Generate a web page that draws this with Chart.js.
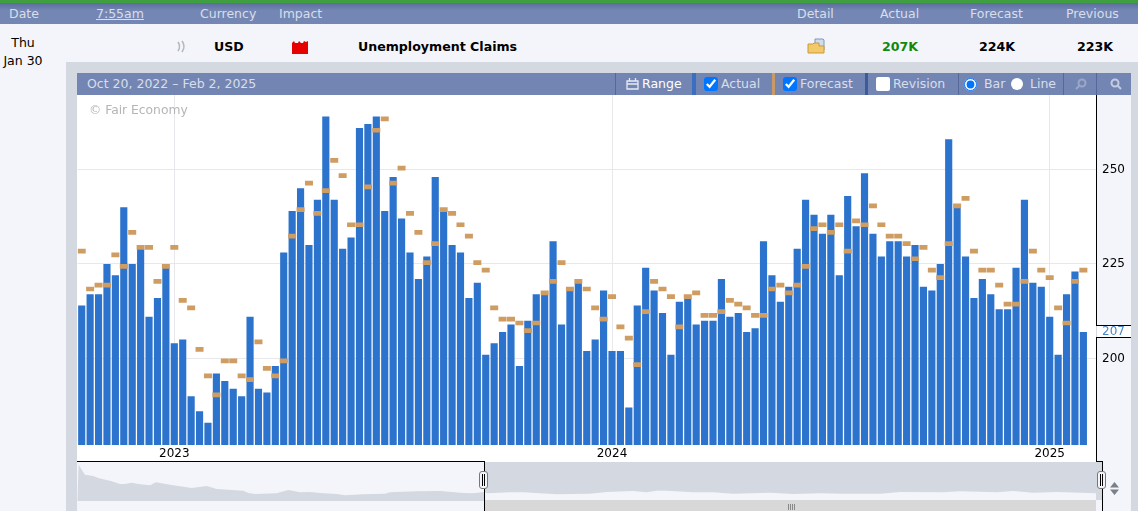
<!DOCTYPE html>
<html>
<head>
<meta charset="utf-8">
<title>Unemployment Claims</title>
<script src="https://cdn.jsdelivr.net/npm/chart.js@4"></script>
<style>
html, body { margin: 0; padding: 0; }
body { width: 1138px; height: 511px; overflow: hidden; position: relative; background: #d4d8e1; font-family: "DejaVu Sans", sans-serif; }
div, span, canvas, input, svg { position: absolute; }
.t { white-space: nowrap; line-height: 16px; }
.hd { color: #d8deeb; font-size: 12.5px; top: 6px; }
.b { color: #000; font-weight: bold; font-size: 12.6px; top: 39px; }
.tool { color: #d8deeb; font-size: 12.5px; top: 76px; }
.sep { top: 73px; height: 22px; }
input { margin: 0; width: 14px; height: 14px; top: 77px; accent-color: #0075ff; }
.plain { appearance: none; background: #fff; border-radius: 2px; }
.round { appearance: none; background: #fff; border-radius: 50%; }
.line { background: #000; }
.handle { width: 7px; height: 16px; background: #f4f5fa; border: 1px solid #777; border-radius: 3px; top: 471px; }
.handle i { position: absolute; left: 2px; top: 2px; width: 1px; height: 12px; background: #000; box-shadow: 2px 0 0 #000; }
</style>
</head>
<body>
<!-- page header -->
<div style="left:0;top:0;width:1138px;height:3px;background:#3f9e3f"></div>
<div style="left:0;top:3px;width:1138px;height:21px;background:linear-gradient(#5a6c9b,#7487b4 35%)"></div>
<span class="t hd" style="left:9px">Date</span>
<span class="t hd" style="left:96px;text-decoration:underline">7:55am</span>
<span class="t hd" style="left:200px">Currency</span>
<span class="t hd" style="left:279px">Impact</span>
<span class="t hd" style="left:797px">Detail</span>
<span class="t hd" style="left:880px">Actual</span>
<span class="t hd" style="left:970px">Forecast</span>
<span class="t hd" style="left:1066px">Previous</span>

<!-- calendar row -->
<div style="left:0;top:24px;width:66px;height:487px;background:#f4f5fa"></div>
<div style="left:66px;top:24px;width:1072px;height:38px;background:#f4f5fa"></div>
<span class="t" style="left:0;width:46px;text-align:center;top:35px;font-size:12.5px">Thu</span>
<span class="t" style="left:0;width:46px;text-align:center;top:53px;font-size:12.5px">Jan 30</span>
<svg style="left:176px;top:40px" width="11" height="13" viewBox="0 0 11 13" fill="none" stroke="#b4b8bf" stroke-width="1.6"><path d="M2 2q3 4.500 0 9M6 1q4 5.500 0 11"/></svg>
<span class="t b" style="left:214px">USD</span>
<svg style="left:292px;top:40px" width="16" height="14" viewBox="0 0 16 14"><path d="M0 14V3l2-2 1 2h3l1-2 2 2h2l1-2 2 1 2-1v13z" fill="#e60000"/></svg>
<span class="t b" style="left:358px">Unemployment Claims</span>
<svg style="left:807px;top:38px" width="18" height="16" viewBox="0 0 18 16"><path d="M8 1h8l1 1v10H8z" fill="#cfdcf0" stroke="#7c97bd"/><path d="M1 6h5l1-1h5v3h5v7H1z" fill="#f2c96b" stroke="#c99a3a"/></svg>
<span class="t b" style="left:882px;color:#0f8a0f">207K</span>
<span class="t b" style="left:979px">224K</span>
<span class="t b" style="left:1077px">223K</span>

<!-- chart toolbar -->
<div style="left:77px;top:73px;width:1054px;height:22px;background:#7386b3"></div>
<span class="t tool" style="left:87px">Oct 20, 2022 – Feb 2, 2025</span>
<div class="sep" style="left:615px;width:1px;background:#56689a"></div>
<svg style="left:626px;top:77px" width="13" height="13" viewBox="0 0 13 13" fill="none" stroke="#e6eaf2" stroke-width="1.3"><path d="M1 4h11v8H1zM1 7h11M3.500 1v3M9.500 1v3"/></svg>
<span class="t tool" style="left:642px;color:#fff">Range</span>
<div class="sep" style="left:692px;width:4px;background:#3c6ec0"></div>
<input type="checkbox" checked style="left:704px">
<span class="t tool" style="left:721px">Actual</span>
<div class="sep" style="left:772px;width:3px;background:#c79a66"></div>
<input type="checkbox" checked style="left:783px">
<span class="t tool" style="left:800px">Forecast</span>
<div class="sep" style="left:865px;width:3px;background:#3c5a9c"></div>
<input type="checkbox" class="plain" style="left:876px">
<span class="t tool" style="left:893px">Revision</span>
<div class="sep" style="left:958px;width:1px;background:#56689a"></div>
<input type="radio" checked style="left:964px;width:13px;height:13px;top:78px">
<span class="t tool" style="left:984px">Bar</span>
<input type="radio" class="round" style="left:1011px;width:12px;height:12px;top:78px">
<span class="t tool" style="left:1030px">Line</span>
<div class="sep" style="left:1063px;width:1px;background:#56689a"></div>
<svg style="left:1075px;top:78px" width="12" height="12" viewBox="0 0 12 12" fill="none" stroke="#9aa8c8" stroke-width="2"><circle cx="7" cy="5" r="3.500"/><path d="M4.500 7.500L1 11"/></svg>
<div class="sep" style="left:1096px;width:1px;background:#56689a"></div>
<svg style="left:1110px;top:78px" width="12" height="12" viewBox="0 0 12 12" fill="none" stroke="#c4cce0" stroke-width="2"><circle cx="5" cy="5" r="3.500"/><path d="M7.500 7.500L11 11"/></svg>

<!-- main plot background -->
<div style="left:77px;top:95px;width:1019px;height:367px;background:#fff"></div>
<div style="left:1097px;top:95px;width:34px;height:367px;background:#f4f5fa"></div>
<div style="left:1097px;top:326px;width:34px;height:11px;background:#fff"></div>
<div class="line" style="left:1096px;top:95px;width:1px;height:230px"></div>
<div class="line" style="left:1096px;top:325px;width:35px;height:1px"></div>
<div class="line" style="left:1096px;top:337px;width:35px;height:1px"></div>
<div class="line" style="left:1096px;top:337px;width:1px;height:125px"></div>

<!-- navigator background -->
<div style="left:77px;top:462px;width:407px;height:49px;background:#f4f5fa"></div>
<div style="left:484px;top:462px;width:618px;height:38px;background:#d4d8e1"></div>
<div style="left:1102px;top:462px;width:29px;height:49px;background:#f4f5fa"></div>
<div style="left:1096px;top:500px;width:6px;height:11px;background:#f4f5fa"></div>

<canvas id="mainChart" width="1054" height="367" style="left:77px;top:95px"></canvas>
<canvas id="navChart" width="1019" height="38" style="left:77px;top:463px"></canvas>

<span class="t" style="left:89px;top:102px;font-size:12.3px;color:#b5b5b5">© Fair Economy</span>

<!-- navigator frame and scrollbar -->
<div style="left:484px;top:500px;width:612px;height:11px;background:#d8d8d8"></div>
<div class="line" style="left:77px;top:461px;width:407px;height:1px"></div>
<div class="line" style="left:484px;top:461px;width:1px;height:50px"></div>
<div class="line" style="left:1096px;top:461px;width:6px;height:1px"></div>
<div class="line" style="left:1102px;top:461px;width:1px;height:50px"></div>
<div class="handle" style="left:479px"><i></i></div>
<div class="handle" style="left:1097px"><i></i></div>
<svg style="left:788px;top:504px" width="9" height="6" viewBox="0 0 9 6" stroke="#888"><path d="M.5 0v6M2.500 0v6M4.500 0v6M6.500 0v6"/></svg>
<svg style="left:1110px;top:482px" width="9" height="13" viewBox="0 0 9 13" fill="#7a7f88"><path d="M4.500 0L9 5.500H0zM0 7.500h9L4.500 13z"/></svg>

<script>
// weekly claims, thousands
const actual = [
    214, 217, 217, 225, 222, 240, 225, 229, 211, 216,
    224, 204, 205, 190, 186, 183, 196, 194, 192, 190,
    211, 192, 191, 198, 228, 239, 245, 230, 242, 264,
    242, 229, 232, 261, 262, 264, 239, 248, 237, 228,
    221, 227, 248, 239, 230, 228, 216, 220, 201, 204,
    207, 209, 198, 210, 217, 217, 231, 209, 218, 220,
    202, 205, 218, 202, 202, 187, 214, 224, 218, 212,
    201, 215, 216, 209, 210, 210, 221, 211, 212, 207,
    208, 231, 222, 215, 219, 229, 242, 238, 233, 238,
    222, 243, 235, 249, 233, 227, 231, 231, 227, 230,
    219, 218, 225, 258, 240, 227, 216, 221, 217, 213,
    213, 224, 242, 220, 219, 211, 201, 217, 223, 207
];

const forecast = [
    229, 219, 220, 220, 228, 225, 234, 230, 230, 221,
    225, 230, 216, 214, 203, 196, 191, 200, 200, 196,
    195, 205, 198, 196, 200, 233, 240, 247, 239, 245,
    253, 249, 236, 236, 246, 261, 264, 247, 251, 239,
    234, 226, 231, 240, 239, 236, 233, 226, 224, 214,
    211, 211, 210, 208, 210, 218, 221, 226, 219, 221,
    219, 214, 211, 217, 209, 206, 199, 213, 221, 219,
    217, 209, 217, 218, 212, 212, 213, 216, 215, 214,
    212, 212, 219, 220, 218, 220, 225, 235, 236, 234,
    236, 229, 237, 236, 241, 236, 233, 233, 231, 227,
    230, 224, 222, 231, 241, 243, 229, 224, 224, 220,
    215, 215, 221, 229, 224, 222, 214, 210, 221, 224
];

const yearLabels = ['2023', '2024', '2025'];
const yearWeeks = [11, 63, 115];
const valueTicks = [200, 225, 250];
const latestActual = 207;

// long history strip under the chart
const navX = [
    0.3, 1.7, 4.7, 8, 16.3, 21.3, 34.7, 43, 48, 54.7, 61.3, 73, 79, 93, 114.7, 129.7, 139.7, 166.3,
    171.3, 178, 199.7, 211.3, 223, 233, 246.3, 259.7, 268, 286.3, 308, 313, 339.7, 363, 386.3, 396.3, 407.3,
    409.7, 433, 446, 479.7, 513, 529.7, 556, 569.7, 579.7, 589.7, 616, 636, 656, 693, 716, 743, 766, 803,
    823, 866, 883, 920, 936, 956, 980, 1019
];
const navY = [
    0.3, 36.3, 31.3, 26.3, 25, 23, 19.7, 17, 17, 18.3, 17, 15.7, 18.7, 16.3, 13, 15, 12, 10.3,
    8, 7, 7.7, 11, 8.7, 9, 7.7, 7, 5.7, 6.7, 7.3, 8.7, 9.7, 10, 8, 7.7, 9,
    7.7, 8.7, 8.7, 6.7, 7.3, 9, 10, 8.7, 10.3, 10.3, 8.7, 8.7, 7.3, 8.3, 7, 7.8, 7.3, 7.3,
    9, 8.7, 9.7, 8.7, 10, 8.3, 9, 7.7
];
const navSplit = 407.3;

// one empty slot after the last bar, as in the original
const weeks = actual.concat(null).map((_, i) => i);
const gridColor = '#e8e8ec';

new Chart(document.getElementById('mainChart').getContext('2d'), {
    type: 'bar',
    data: {
        labels: weeks,
        datasets: [{
            label: 'Forecast',
            data: forecast.map(v => [v - 1.25, v]),
            backgroundColor: '#cf9c62',
            barPercentage: 0.95,
            order: 0
        }, {
            label: 'Actual',
            data: actual,
            backgroundColor: '#2b73cc',
            order: 1
        }]
    },
    options: {
        animation: false,
        responsive: false,
        layout: { autoPadding: false, padding: { left: 0.5 } },
        datasets: { bar: { grouped: false, barPercentage: 0.85, categoryPercentage: 1 } },
        plugins: { legend: { display: false }, tooltip: { enabled: false } },
        scales: {
            x: {
                afterFit: axis => {
                    axis.height = 17;
                    axis.paddingLeft = 0;
                    axis.paddingRight = 0;
                },
                border: { display: false },
                grid: {
                    offset: false,
                    drawTicks: false,
                    color: c => yearWeeks.includes(c.index) ? gridColor : 'transparent'
                },
                ticks: {
                    autoSkip: false,
                    maxRotation: 0,
                    padding: 2,
                    color: '#000',
                    font: { family: 'DejaVu Sans', size: 12 },
                    callback: (v, i) => yearWeeks.includes(i) ? yearLabels[yearWeeks.indexOf(i)] : ''
                }
            },
            y: {
                position: 'right',
                min: 177.1,
                max: 269.7,
                afterFit: axis => {
                    axis.width = 35;
                    axis.paddingTop = 0;
                    axis.paddingBottom = 0;
                },
                afterBuildTicks: axis => {
                    axis.ticks = valueTicks.concat(latestActual).map(v => ({ value: v }));
                },
                border: { display: false },
                grid: {
                    drawTicks: false,
                    color: c => c.tick.value === latestActual ? 'transparent' : gridColor
                },
                ticks: {
                    padding: 6,
                    font: { family: 'DejaVu Sans', size: 12 },
                    color: c => c.tick.value === latestActual ? '#4a86c5' : '#000'
                }
            }
        }
    }
});

const navPoints = navX.map((x, i) => ({ x: x, y: navY[i] }));

new Chart(document.getElementById('navChart').getContext('2d'), {
    type: 'line',
    data: {
        datasets: [{
            data: navPoints.filter(p => p.x <= navSplit),
            backgroundColor: '#d4d8e1',
            fill: 'origin'
        }, {
            data: navPoints.filter(p => p.x >= navSplit),
            backgroundColor: '#f4f5fa',
            fill: 'origin'
        }]
    },
    options: {
        animation: false,
        responsive: false,
        layout: { autoPadding: false, padding: 0 },
        elements: { point: { radius: 0 }, line: { borderWidth: 0 } },
        plugins: { legend: { display: false }, tooltip: { enabled: false } },
        scales: {
            x: { type: 'linear', display: false, min: 0, max: 1019 },
            y: { display: false, min: 0, max: 38 }
        }
    }
});
</script>
</body>
</html>
